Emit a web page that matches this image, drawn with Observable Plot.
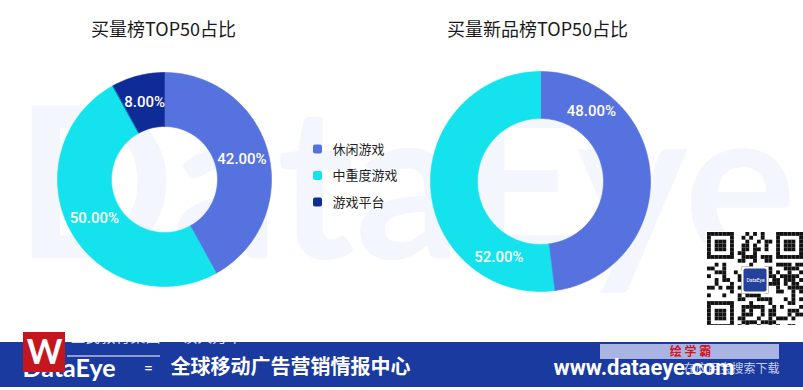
<!DOCTYPE html>
<html><head><meta charset="utf-8">
<script src="https://cdn.jsdelivr.net/npm/d3@7"></script>
<script src="https://cdn.jsdelivr.net/npm/@observablehq/plot@0.6"></script>
<style>body{margin:0;background:#fff;} svg{display:block}</style>
</head><body><div id="chart"></div>
<script>
// ---- data ----
const categories = ["休闲游戏", "中重度游戏", "游戏平台"];
const colors = ["#5672de", "#14e3ee", "#0f2b98"];
const chart1Title = "买量榜TOP50占比";
const chart1Values = [42, 50, 8];
const chart2Title = "买量新品榜TOP50占比";
const chart2Values = [48, 52];
const bannerSlogan = "全球移动广告营销情报中心";
const bannerBrand = "DataEye";
const bannerUrl = "www.dataeye.com";

// ---- layout ----
const W = 803, H = 390;
const CJK = "'Noto Sans CJK SC', 'Noto Sans', sans-serif";
const NUM = "Roboto, 'Noto Sans', sans-serif";
const donuts = [
  {title: chart1Title, values: chart1Values, cx: 164, cy: 179, r0: 53, r1: 107, tx: 163, label: (a0, a1) => (a0 + a1) / 2},
  {title: chart2Title, values: chart2Values, cx: 540, cy: 181, r0: 63, r1: 110, tx: 537, label: (a0, a1) => a0 + 36}
];

const slicePts = [], labels = [], titles = [];
donuts.forEach((d, di) => {
  const total = d3.sum(d.values);
  let acc = 0;
  titles.push({x: d.tx, y: 30, text: d.title});
  d.values.forEach((v, i) => {
    const a0 = acc / total * 360, a1 = (acc + v) / total * 360;
    acc += v;
    const key = di + "-" + i;
    const n = Math.max(2, Math.ceil(a1 - a0));
    const pt = (a, r) => ({key, cat: categories[i], x: d.cx + r * Math.sin(a * Math.PI / 180), y: d.cy - r * Math.cos(a * Math.PI / 180)});
    for (let k = 0; k <= n; k++) slicePts.push(pt(a0 + (a1 - a0) * k / n, d.r1));
    for (let k = n; k >= 0; k--) slicePts.push(pt(a0 + (a1 - a0) * k / n, d.r0));
    const la = d.label(a0, a1) * Math.PI / 180, lr = (d.r0 + d.r1) / 2;
    labels.push({x: d.cx + lr * Math.sin(la), y: d.cy - lr * Math.cos(la), text: v.toFixed(2) + "%"});
  });
});

const legend = categories.map((c, i) => ({cat: c, y: 149 + i * 26.5}));

// QR-like decoration
const qx = 707, qy = 232, qm = 3.84, qn = 25;
const qr = [];
const finder = (i, j, oi, oj) => {
  const a = i - oi, b = j - oj;
  if (a < 0 || b < 0 || a > 6 || b > 6) return null;
  const ring = Math.min(a, b, 6 - a, 6 - b);
  return ring === 0 || ring >= 2;
};
for (let i = 0; i < qn; i++) for (let j = 0; j < qn; j++) {
  let on = finder(i, j, 0, 0);
  if (on === null) on = finder(i, j, 18, 0);
  if (on === null) on = finder(i, j, 0, 18);
  if (on === null) {
    if ((i <= 7 && j <= 7) || (i >= 17 && j <= 7) || (i <= 7 && j >= 17)) on = false;
    else on = ((((i * 73856093) ^ (j * 19349663)) >>> 0) % 7) < 3;
  }
  if (on) qr.push({x1: qx + i * qm, x2: qx + (i + 1) * qm, y1: qy + j * qm, y2: qy + (j + 1) * qm});
}

const marks = [
  // faint watermark
  Plot.text([{x: 405, y: 190}], {x: "x", y: "y", text: () => "DataEye", fontSize: 210, fontWeight: "bold", fontFamily: "Lato, sans-serif", fill: "#f3f6fc"}),
  // donut slices
  Plot.line(slicePts, {x: "x", y: "y", z: "key", fill: "cat", stroke: "cat", strokeWidth: 0.6, curve: "linear-closed"}),
  Plot.text(labels, {x: "x", y: "y", text: "text", fill: "white", fontSize: 15, fontWeight: 500, fontFamily: NUM}),
  Plot.text(titles, {x: "x", y: "y", text: "text", fill: "#1a1a1a", fontSize: 18, fontFamily: CJK}),
  // legend
  Plot.rect(legend, {x1: 313, x2: 322, y1: d => d.y - 4.5, y2: d => d.y + 4.5, fill: "cat", rx: 2}),
  Plot.text(legend, {x: 332, y: "y", text: "cat", textAnchor: "start", fill: "#222", fontSize: 13, fontFamily: CJK}),
  // QR code
  Plot.rect([{}], {x1: qx - 1, x2: qx + qn * qm + 1, y1: qy - 1, y2: qy + qn * qm + 1, fill: "white"}),
  Plot.rect(qr, {x1: "x1", x2: "x2", y1: "y1", y2: "y2", fill: "#111"}),
  Plot.rect([{}], {x1: qx + 9 * qm, x2: qx + 16 * qm, y1: qy + 9 * qm, y2: qy + 16 * qm, fill: "white"}),
  Plot.rect([{}], {x1: qx + 9.5 * qm, x2: qx + 15.5 * qm, y1: qy + 9.5 * qm, y2: qy + 15.5 * qm, fill: "#24429a", rx: 2}),
  Plot.text([{}], {x: qx + 12.5 * qm, y: qy + 12.5 * qm, text: () => "DataEye", fill: "white", fontSize: 5, fontFamily: "Roboto"}),
  // banner
  Plot.rect([{}], {x1: 0, x2: W, y1: 342, y2: 387, fill: "#1b3a9f"}),
  Plot.rect([{}], {x1: 67, x2: 160, y1: 355.5, y2: 356.5, fill: "white"}),
  Plot.text([{}], {x: 70, y: 337, text: () => "全民教育集团 · 读大万本", textAnchor: "start", fill: "white", fillOpacity: 0.85, fontSize: 15, fontFamily: CJK}),
  Plot.rect([{}], {x1: 0, x2: W, y1: 325, y2: 342, fill: "white"}),
  Plot.text([{}], {x: 22, y: 368, text: () => bannerBrand, textAnchor: "start", fill: "white", fontSize: 25, fontWeight: "bold", fontFamily: "Lato, sans-serif"}),
  Plot.text([{}], {x: 148, y: 368, text: () => "=", fill: "white", fontSize: 16, fontFamily: "Roboto"}),
  Plot.text([{}], {x: 170, y: 367, text: () => bannerSlogan, textAnchor: "start", fill: "white", fontSize: 20, fontWeight: "bold", fontFamily: CJK}),
  Plot.rect([{}], {x1: 600, x2: 779, y1: 344, y2: 359, fill: "#a9b4e2"}),
  Plot.text([{}], {x: 690, y: 351.5, text: () => "绘 学 霸", fill: "#d4141c", fontSize: 12, fontWeight: "bold", fontFamily: CJK}),
  Plot.text([{}], {x: 779, y: 369, text: () => "在应用宝搜索下载", textAnchor: "end", fill: "#c8d0ee", fontSize: 12, fontFamily: CJK}),
  Plot.text([{}], {x: 553, y: 367, text: () => bannerUrl, textAnchor: "start", fill: "white", fontSize: 22, fontWeight: "bold", fontFamily: "Roboto"}),
  // red logo
  Plot.rect([{}], {x1: 23, x2: 65, y1: 332, y2: 372, fill: "#c4161c"}),
  Plot.text([{}], {x: 44, y: 353, text: () => "W", fill: "white", fontSize: 34, fontWeight: "bold", fontFamily: "Lato, sans-serif"})
];

const chart = Plot.plot({
  width: W, height: H, margin: 0,
  x: {domain: [0, W], range: [0, W], axis: null},
  y: {domain: [0, H], range: [0, H], axis: null},
  color: {domain: categories, range: colors},
  style: {background: "white"},
  marks
});
document.getElementById("chart").append(chart);
</script>
</body></html>
